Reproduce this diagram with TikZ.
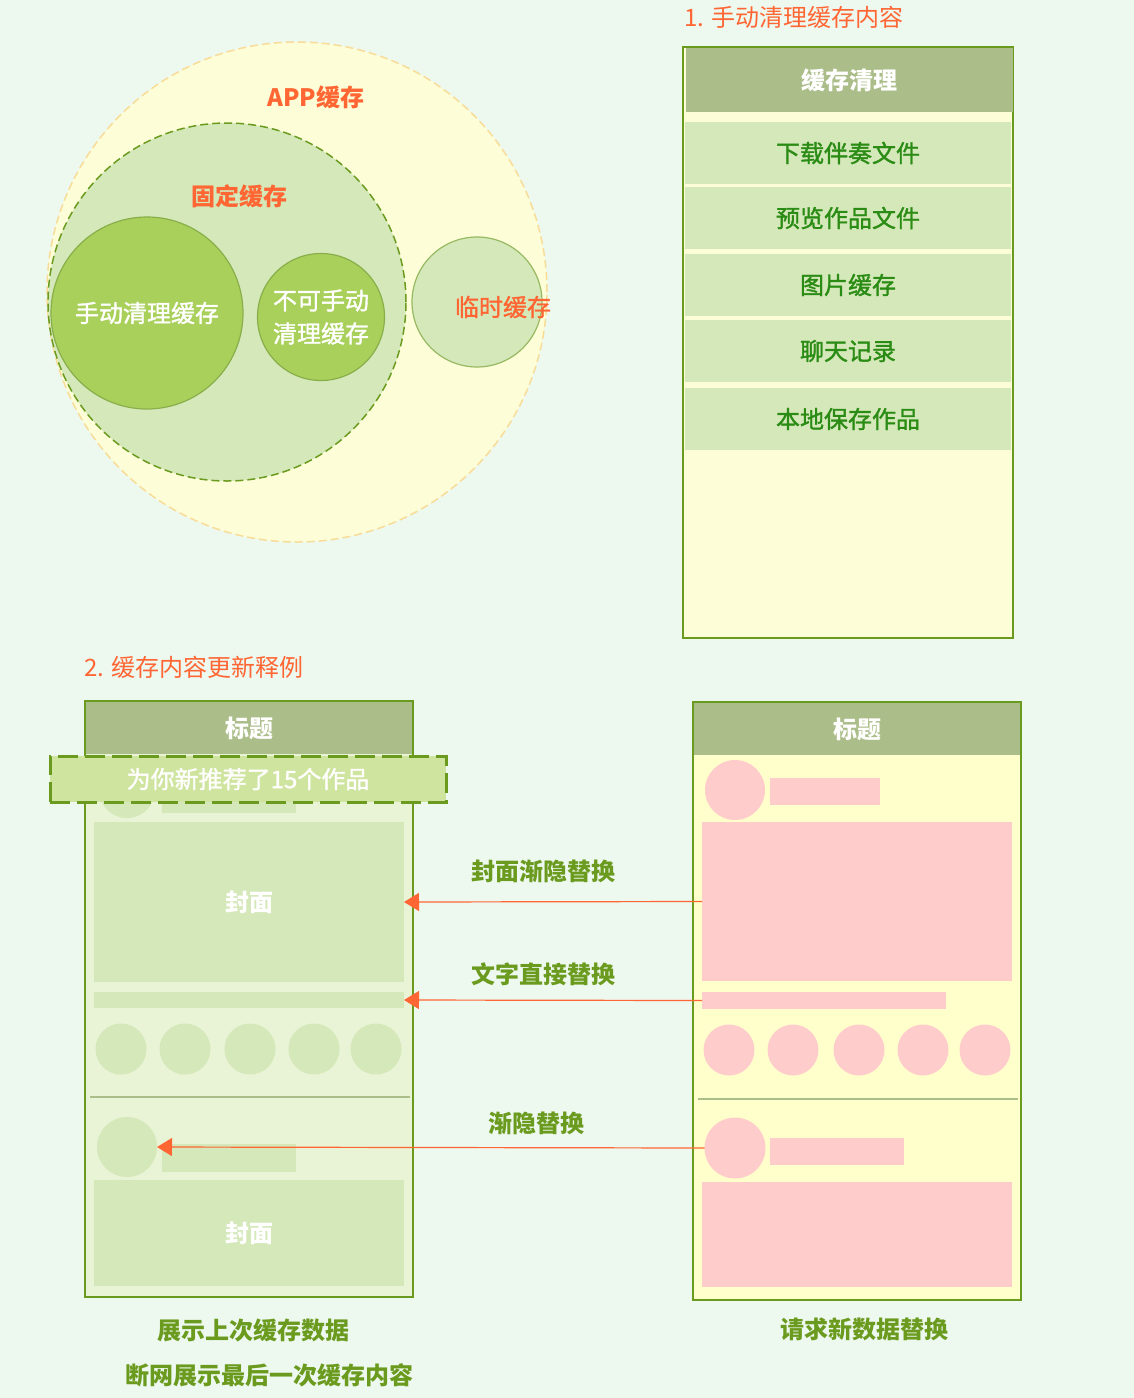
\documentclass[tikz,border=0pt]{standalone}
\usepackage{fontspec}
\setmainfont{Noto Sans CJK SC}
\newfontfamily\medfont{Noto Sans CJK SC}[FakeBold=1.4]
\usetikzlibrary{arrows.meta}
\definecolor{bgcol}{HTML}{EDF8EF}
\definecolor{ycol}{HTML}{FDFED8}
\definecolor{pycol}{HTML}{FFFFCC}
\definecolor{ocol}{HTML}{F8DC98}
\definecolor{hcol}{HTML}{ABBD89}
\definecolor{lgcol}{HTML}{D5E8BA}
\definecolor{mgcol}{HTML}{A9D05A}
\definecolor{dgcol}{HTML}{6B9B1E}
\definecolor{pfcol}{HTML}{E9F3D5}
\definecolor{bncol}{HTML}{CFE49E}
\definecolor{txcol}{HTML}{2A8C14}
\definecolor{orcol}{HTML}{FF6633}
\definecolor{pkcol}{HTML}{FFCCCC}
\tikzset{every picture/.style={x=1pt,y=-1pt,font=\fontsize{24}{33}\selectfont}}
\tikzset{heavy/.style={font=\fontsize{24}{33}\selectfont\bfseries}}
\tikzset{medium/.style={font=\fontsize{24}{33}\selectfont\medfont}}
\tikzset{blk/.style={rectangle,inner sep=0pt,outer sep=0pt}}
\tikzset{dot/.style={circle,inner sep=0pt,outer sep=0pt,minimum size=#1}}
\tikzset{row/.style={blk,medium,fill=lgcol,text=txcol,minimum width=326pt,minimum height=62pt}}
\tikzset{arr/.style={draw=orcol,line width=1.2pt,-{Triangle[length=15pt,width=18pt]}}}
\tikzset{sep/.style={draw=hcol,line width=2pt}}

\begin{document}
\begin{tikzpicture}
\fill [bgcol] (0,0) rectangle (1134,1398);

\node [dot=500pt,fill=ycol,draw=ocol,line width=1.5pt,dash pattern=on 8pt off 4pt] (app) at (297,292) {};
\node [dot=358pt,fill=lgcol,draw=dgcol,line width=1.5pt,dash pattern=on 8pt off 4pt] (fix) at (227,302) {};
\node [dot=192pt,medium,fill=mgcol,draw=dgcol!80,line width=1.2pt,text=white] (man) at (147,313) {手动清理缓存};
\node [dot=127pt,medium,fill=mgcol,draw=dgcol!80,line width=1.2pt,text=white,align=center] (keep) at (321,317) {不可手动\\清理缓存};
\node [dot=130pt,fill=lgcol,draw=dgcol!70,line width=1.2pt] (tmp) at (477,302) {};
\node [heavy,text=orcol] (tapp) at (316,97) {APP缓存};
\node [heavy,text=orcol] (tfix) at (239,196) {固定缓存};
\node [medium,text=orcol] (ttmp) at (503,307) {临时缓存};

\node [text=orcol,anchor=west,inner sep=0pt] (sec1) at (684,17) {1. 手动清理缓存内容};
\node [blk,fill=ycol,draw=dgcol,line width=2pt,minimum width=330pt,minimum height=591pt] (lst) at (848,342.5) {};
\node [blk,heavy,fill=hcol,text=white,minimum width=327pt,minimum height=64pt] (lhd) at (849.5,80) {缓存清理};
\node [row] (r1) at (848,153) {下载伴奏文件};
\node [row] (r2) at (848,218) {预览作品文件};
\node [row] (r3) at (848,285) {图片缓存};
\node [row] (r4) at (848,351) {聊天记录};
\node [row] (r5) at (848,419) {本地保存作品};

\node [text=orcol,anchor=west,inner sep=0pt] (sec2) at (84,667) {2. 缓存内容更新释例};

\node [blk,fill=pfcol,draw=dgcol,line width=2pt,minimum width=328pt,minimum height=596pt] (lph) at (249,999) {};
\node [blk,heavy,fill=hcol,text=white,minimum width=326pt,minimum height=52pt] (lhead) at (249,728) {标题};
\node [dot=56pt,fill=lgcol] (lavt1) at (127,790) {};
\node [blk,fill=lgcol,minimum width=134pt,minimum height=28pt] (lnm1) at (229,799) {};
\node [blk,heavy,fill=lgcol,text=white,minimum width=310pt,minimum height=160pt] (lcov) at (249,902) {封面};
\node [blk,fill=lgcol,minimum width=310pt,minimum height=16pt] (lbar) at (249,1000) {};
\node [dot=51pt,fill=lgcol] (lc1) at (121,1049) {};
\node [dot=51pt,fill=lgcol] (lc2) at (185,1049) {};
\node [dot=51pt,fill=lgcol] (lc3) at (250,1049) {};
\node [dot=51pt,fill=lgcol] (lc4) at (314,1049) {};
\node [dot=51pt,fill=lgcol] (lc5) at (376,1049) {};
\draw [sep] (90,1097) -- (410,1097);
\node [dot=60pt,fill=lgcol] (lavt2) at (127,1147) {};
\node [blk,fill=lgcol,minimum width=134pt,minimum height=28pt] (lnm2) at (229,1158) {};
\node [blk,heavy,fill=lgcol,text=white,minimum width=310pt,minimum height=106pt] (lcov2) at (249,1233) {封面};
\node [blk,medium,fill=bncol,draw=dgcol,line width=3pt,dash pattern=on 20pt off 7pt,text=white,minimum width=396pt,minimum height=46pt] (ban) at (248,779) {为你新推荐了15个作品};

\node [blk,fill=pycol,draw=dgcol,line width=2pt,minimum width=328pt,minimum height=598pt] (rph) at (857,1001) {};
\node [blk,heavy,fill=hcol,text=white,minimum width=326pt,minimum height=52pt] (rhead) at (857,729) {标题};
\node [dot=60pt,fill=pkcol] (ravt1) at (735,790) {};
\node [blk,fill=pkcol,minimum width=110pt,minimum height=27pt] (rnm1) at (825,791.5) {};
\node [blk,fill=pkcol,minimum width=310pt,minimum height=159pt] (rcov) at (857,901.5) {};
\node [blk,fill=pkcol,minimum width=244pt,minimum height=17pt] (rbar) at (824,1000.5) {};
\node [dot=51pt,fill=pkcol] (rc1) at (729,1050) {};
\node [dot=51pt,fill=pkcol] (rc2) at (793,1050) {};
\node [dot=51pt,fill=pkcol] (rc3) at (859,1050) {};
\node [dot=51pt,fill=pkcol] (rc4) at (923,1050) {};
\node [dot=51pt,fill=pkcol] (rc5) at (985,1050) {};
\draw [sep] (698,1099) -- (1018,1099);
\node [dot=61pt,fill=pkcol] (ravt2) at (735,1148) {};
\node [blk,fill=pkcol,minimum width=134pt,minimum height=27pt] (rnm2) at (837,1151.5) {};
\node [blk,fill=pkcol,minimum width=310pt,minimum height=105pt] (rcov2) at (857,1234.5) {};

\draw [arr] (rcov.west) -- (lcov.east);
\draw [arr] (rbar.west) -- (lbar.east);
\draw [arr] (ravt2.west) -- (lavt2.east);

\node [heavy,text=dgcol] (t1) at (543,871) {封面渐隐替换};
\node [heavy,text=dgcol] (t2) at (543,974) {文字直接替换};
\node [heavy,text=dgcol] (t3) at (536,1123) {渐隐替换};

\node [heavy,text=dgcol] (cap1) at (253,1330) {展示上次缓存数据};
\node [heavy,text=dgcol] (cap2) at (269,1375) {断网展示最后一次缓存内容};
\node [heavy,text=dgcol] (cap3) at (864,1329) {请求新数据替换};
\end{tikzpicture}
\end{document}
